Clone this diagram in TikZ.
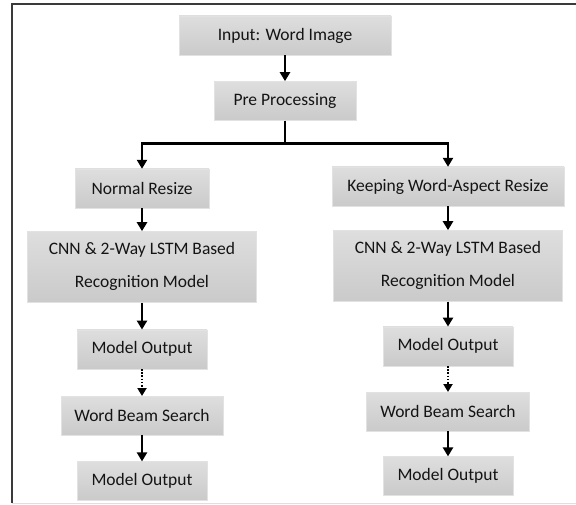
\documentclass[tikz,border=0pt]{standalone}
\usepackage{fontspec}
\setmainfont{Carlito}
\usepackage{xcolor}
\definecolor{boxtop}{HTML}{DEDEDE}
\definecolor{boxbot}{HTML}{CACACA}
\definecolor{boxline}{HTML}{E2E2E2}
\definecolor{txtcolor}{HTML}{141414}
\definecolor{framecolor}{HTML}{3A3A3A}
\usetikzlibrary{positioning, arrows.meta}
\tikzset{
    text=txtcolor,
    arrow/.style={ -{Triangle[width=10pt,length=9pt]}, draw=black, line width=2.6pt },
    dotarrow/.style={ -{Triangle[width=9pt,length=8pt]}, draw=black, line width=2pt, dash pattern=on 1.6pt off 1.6pt },
    % Processing stage
    stage/.style={ rectangle, draw=boxline, top color=boxtop, bottom color=boxbot, minimum height=39pt, inner sep=0pt, font=\fontsize{17.5}{33}\selectfont, align=center },
    tallstage/.style={ stage, minimum height=71pt },
}

\begin{document}
\begin{tikzpicture}[x=1pt, y=1pt, node distance=25pt]
    % Frame
    \useasboundingbox (0,0) rectangle (576,-505);
    \draw[gray!25, line width=1pt] (12,-503) -- (576,-503);
    \draw[framecolor, line width=1.5pt] (12,-503) -- (12,-4) -- (576,-4);

    % Common part
    \node[stage, minimum width=212pt] (input) at (285,-35.5) {Input: Word Image};
    \node[stage, minimum width=142pt, below=26pt of input] (preproc) {Pre Processing};
    \coordinate[below=23pt of preproc] (split);

    % Left branch
    \node[stage, minimum width=134pt] (resize-l) at (142,-188.5) {Normal Resize};
    \node[tallstage, minimum width=229pt, below=23pt of resize-l] (cnn-l) {CNN \& 2-Way LSTM Based\\Recognition Model};
    \node[stage, minimum width=130pt, below=27pt of cnn-l] (out-l) {Model Output};
    \node[stage, minimum width=162pt, below=27pt of out-l] (beam-l) {Word Beam Search};
    \node[stage, minimum width=130pt, below=26pt of beam-l] (final-l) {Model Output};

    % Right branch
    \node[stage, minimum width=232pt] (resize-r) at (448,-186.5) {Keeping Word-Aspect Resize};
    \node[tallstage, minimum width=229pt, below=24pt of resize-r] (cnn-r) {CNN \& 2-Way LSTM Based\\Recognition Model};
    \node[stage, minimum width=130pt, below=25pt of cnn-r] (out-r) {Model Output};
    \node[stage, minimum width=163pt, below=26pt of out-r] (beam-r) {Word Beam Search};
    \node[stage, minimum width=130pt, below=25pt of beam-r] (final-r) {Model Output};

    \draw[arrow] (input) to (preproc);
    \draw[line width=2.6pt] (preproc) to (split);
    \draw[arrow] (split) -| (resize-l);
    \draw[arrow] (split) -| (resize-r);

    \draw[arrow] (resize-l) to (cnn-l);
    \draw[arrow] (cnn-l) to (out-l);
    \draw[dotarrow] (out-l) to (beam-l);
    \draw[arrow] (beam-l) to (final-l);

    \draw[arrow] (resize-r) to (cnn-r);
    \draw[arrow] (cnn-r) to (out-r);
    \draw[dotarrow] (out-r) to (beam-r);
    \draw[arrow] (beam-r) to (final-r);
\end{tikzpicture}
\end{document}
